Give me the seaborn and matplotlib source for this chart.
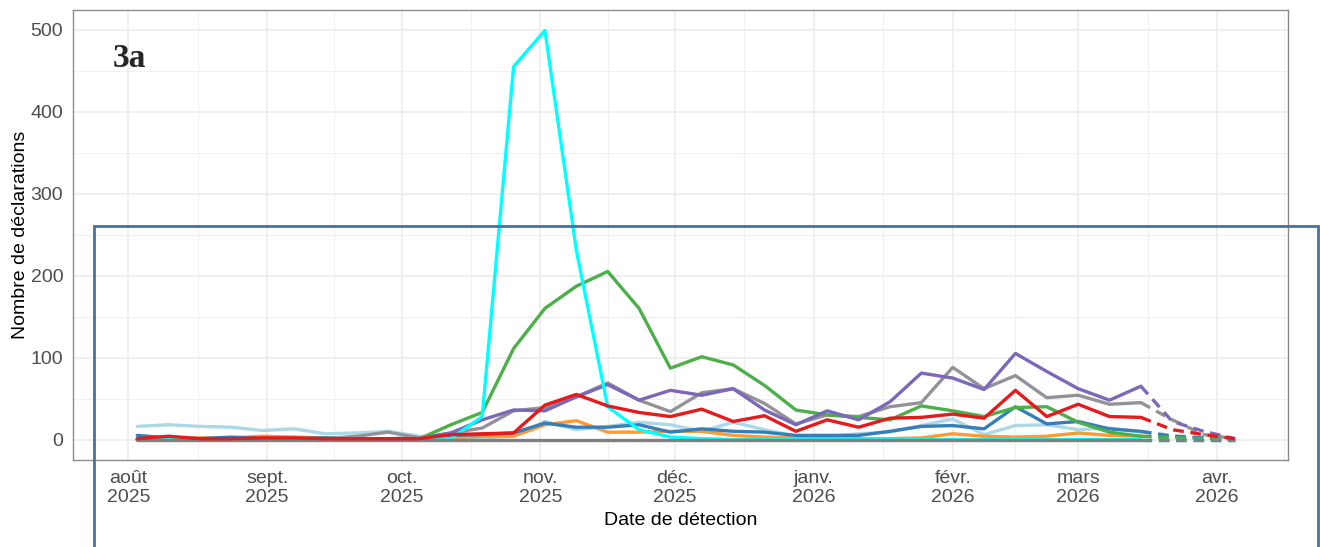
import numpy as np
import pandas as pd
import seaborn as sns
import matplotlib.pyplot as plt
from matplotlib.patches import Rectangle

# weekly points (sundays), last 3 weeks are incomplete -> dashed
dates = pd.date_range('2025-08-03', '2026-04-05', freq='7D')
n_complete = 33

cyan = [0,0,0,0,0,0,0,0,0,0,1,28,455,499,231,40,12,3,1,0,0,0,0,0,0,0,0,0,0,0,0,0,0,0,0,0]
green = [0,0,0,0,1,0,0,0,0,1,18,33,111,160,187,205,160,87,101,91,66,36,30,27,24,41,35,28,39,40,21,9,4,2,1,0]
purple = [0,0,0,0,0,0,0,0,1,1,8,24,36,35,52,67,48,60,54,62,36,18,35,24,46,81,75,61,105,83,62,48,65,22,10,1]
grey = [0,0,0,0,0,1,1,4,9,2,8,14,35,39,52,69,48,34,57,62,44,19,30,28,40,45,88,62,78,51,54,43,45,24,6,1]
red = [1,4,1,1,2,2,1,1,1,1,6,7,8,42,55,41,33,28,37,22,29,10,24,15,26,27,31,26,60,28,43,28,27,12,6,1]
blue = [5,2,1,3,1,1,2,1,1,2,5,6,8,20,15,15,18,9,13,10,9,5,5,5,10,16,17,13,40,19,22,13,10,4,2,0]
lightblue = [16,18,16,15,11,13,7,8,10,4,2,2,4,22,12,16,21,18,10,21,12,4,4,7,9,17,25,6,17,18,12,14,9,5,2,0]
orange = [0,1,2,2,4,3,2,1,1,1,2,4,4,18,23,9,9,10,10,5,3,2,1,1,1,2,7,4,3,4,8,5,4,3,2,1]
darkgrey = [0]*36

series = {'lightblue': lightblue, 'orange': orange, 'blue': blue, 'grey': grey,
          'green': green, 'purple': purple, 'cyan': cyan, 'darkgrey': darkgrey, 'red': red}
palette = {'lightblue': '#add8e6', 'orange': '#ff9933', 'blue': '#377eb8', 'grey': '#929298',
           'green': '#4daf4a', 'purple': '#7b68b8', 'cyan': '#00ffff', 'darkgrey': '#808080',
           'red': '#e41a1c'}

month_ticks = pd.date_range('2025-08-01', '2026-04-01', freq='MS')
month_labels = ['août\n2025', 'sept.\n2025', 'oct.\n2025', 'nov.\n2025', 'déc.\n2025',
                'janv.\n2026', 'févr.\n2026', 'mars\n2026', 'avr.\n2026']
y_ticks = [0, 100, 200, 300, 400, 500]

rows = []
for name, vals in series.items():
    for i, (d, v) in enumerate(zip(dates, vals)):
        if i < n_complete:
            rows.append((d, v, name, 'complet'))
        if i >= n_complete - 1:
            rows.append((d, v, name, 'incomplet'))
df = pd.DataFrame(rows, columns=['date', 'n', 'serie', 'statut'])

sns.set_style('white')
plt.rcParams['font.family'] = ['Liberation Sans', 'DejaVu Sans']

fig = plt.figure(figsize=(13.2, 5.47), dpi=100)
ax = fig.add_axes([73/1320, 1-460/547, (1288-73)/1320, (460-10)/547])

sns.lineplot(data=df, x='date', y='n', hue='serie', style='statut', palette=palette,
             hue_order=list(series.keys()), dashes={'complet': '', 'incomplet': (3.2, 2.0)},
             estimator=None, linewidth=2.4, legend=False, ax=ax, zorder=3)

ax.set_xlim(pd.Timestamp('2025-07-19 16:00'), pd.Timestamp('2026-04-16 20:00'))
ax.set_ylim(-25, 524)
ax.set_xticks(month_ticks)
ax.set_xticklabels(month_labels)
mid = [month_ticks[k] + (month_ticks[k+1] - month_ticks[k]) / 2 for k in range(len(month_ticks)-1)]
mid.append(pd.Timestamp('2026-04-16'))
ax.set_xticks(mid, minor=True)
ax.set_yticks(y_ticks)
ax.set_yticks([50, 150, 250, 350, 450], minor=True)

ax.grid(which='major', color='#ebebeb', linewidth=1.1, zorder=0)
ax.grid(which='minor', color='#f0f0f0', linewidth=0.8, zorder=0)
ax.set_axisbelow(True)
for s in ax.spines.values():
    s.set_color('#8c8c8c')
    s.set_linewidth(1.0)
ax.tick_params(which='major', length=4, width=1, color='#555555', labelsize=14,
               labelcolor='#4d4d4d', pad=3)
ax.tick_params(which='minor', length=0)

ax.set_xlabel('Date de détection', fontsize=14, color='black', labelpad=4)
ax.set_ylabel('Nombre de déclarations', fontsize=14, color='black', labelpad=1)

fig.text(113/1320, 1-67/547, '3a', fontsize=24, fontweight='bold',
         family=['Liberation Serif', 'DejaVu Serif'], va='baseline', ha='left')

fig.add_artist(Rectangle((94/1320, -0.05), (1318-94)/1320, 1-226/547+0.05,
                         transform=fig.transFigure, fill=False, edgecolor='#4a70a0',
                         linewidth=2.0, clip_on=False, zorder=10))

plt.savefig('out.png', dpi=100)
